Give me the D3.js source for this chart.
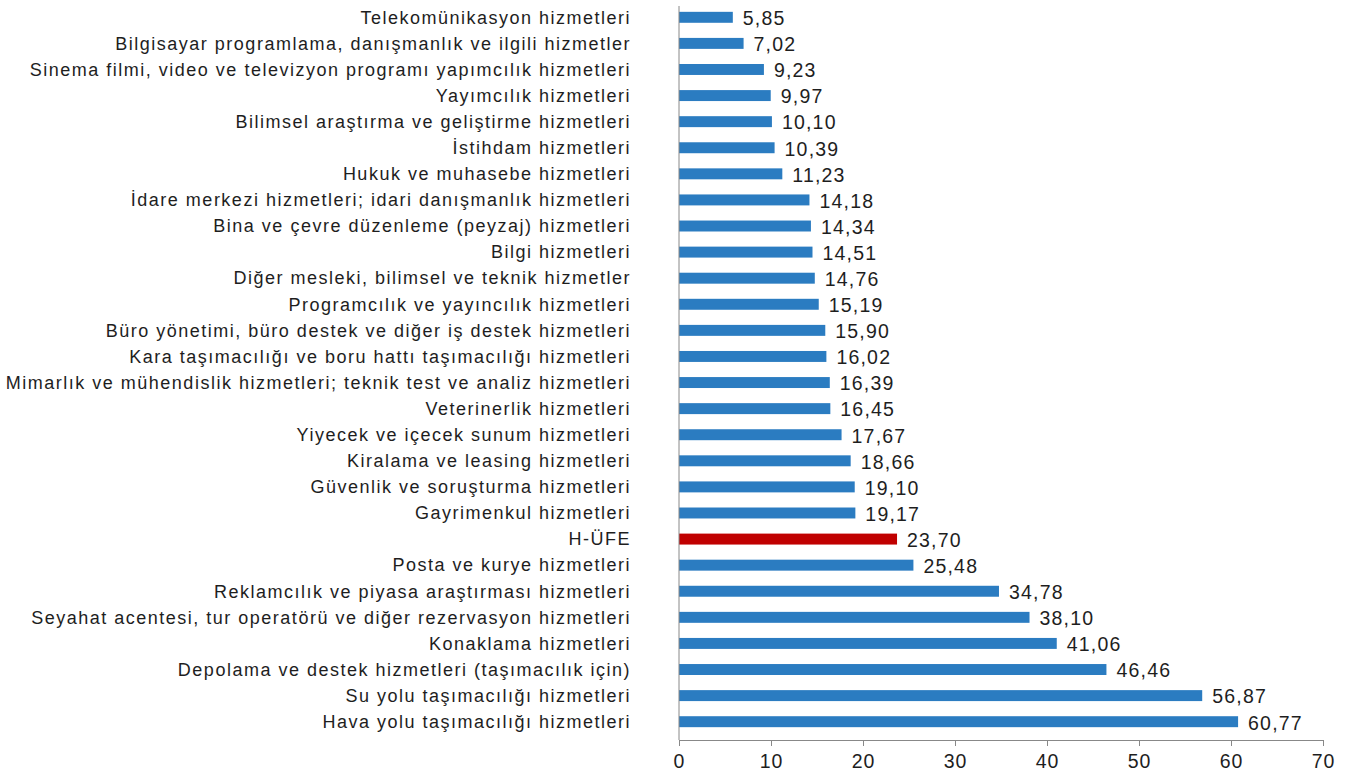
<!DOCTYPE html>
<html>
<head>
<meta charset="utf-8">
<script src="https://cdn.jsdelivr.net/npm/d3@7"></script>
<style>
  body { margin: 0; background: #fff; }
  text { font-family: "Liberation Sans", Arial, sans-serif; fill: #1e1e1e; }
</style>
</head>
<body>
<svg id="chart" width="1346" height="779"></svg>
<script>
// categories, top to bottom
const categories = [
  "Telekomünikasyon hizmetleri",
  "Bilgisayar programlama, danışmanlık ve ilgili hizmetler",
  "Sinema filmi, video ve televizyon programı yapımcılık hizmetleri",
  "Yayımcılık hizmetleri",
  "Bilimsel araştırma ve geliştirme hizmetleri",
  "İstihdam hizmetleri",
  "Hukuk ve muhasebe hizmetleri",
  "İdare merkezi hizmetleri; idari danışmanlık hizmetleri",
  "Bina ve çevre düzenleme (peyzaj) hizmetleri",
  "Bilgi hizmetleri",
  "Diğer mesleki, bilimsel ve teknik hizmetler",
  "Programcılık ve yayıncılık hizmetleri",
  "Büro yönetimi, büro destek ve diğer iş destek hizmetleri",
  "Kara taşımacılığı ve boru hattı taşımacılığı hizmetleri",
  "Mimarlık ve mühendislik hizmetleri; teknik test ve analiz hizmetleri",
  "Veterinerlik hizmetleri",
  "Yiyecek ve içecek sunum hizmetleri",
  "Kiralama ve leasing hizmetleri",
  "Güvenlik ve soruşturma hizmetleri",
  "Gayrimenkul hizmetleri",
  "H-ÜFE",
  "Posta ve kurye hizmetleri",
  "Reklamcılık ve piyasa araştırması hizmetleri",
  "Seyahat acentesi, tur operatörü ve diğer rezervasyon hizmetleri",
  "Konaklama hizmetleri",
  "Depolama ve destek hizmetleri (taşımacılık için)",
  "Su yolu taşımacılığı hizmetleri",
  "Hava yolu taşımacılığı hizmetleri"
]
const values = [5.85, 7.02, 9.23, 9.97, 10.10, 10.39, 11.23, 14.18, 14.34, 14.51, 14.76, 15.19, 15.90, 16.02,
  16.39, 16.45, 17.67, 18.66, 19.10, 19.17, 23.70, 25.48, 34.78, 38.10, 41.06, 46.46, 56.87, 60.77]
const highlight = "H-ÜFE"
const xTicks = [0, 10, 20, 30, 40, 50, 60, 70]

const svg = d3.select("#chart")
const fmt = d => d.toFixed(2).replace(".", ",")

const x = d3.scaleLinear().domain([0, 70]).range([679, 1323])
const y = d3.scaleBand().domain(categories).range([4, 735]).paddingInner(0.58).paddingOuter(0.3)

const data = categories.map((c, i) => ({ name: c, value: values[i] }))

// bars
svg.append("g").selectAll("rect")
  .data(data)
  .join("rect")
    .attr("x", x(0))
    .attr("y", d => y(d.name))
    .attr("width", d => x(d.value) - x(0))
    .attr("height", y.bandwidth())
    .attr("fill", d => d.name === highlight ? "#c00000" : "#2b7cc1")

// value labels
svg.append("g").selectAll("text")
  .data(data)
  .join("text")
    .attr("x", d => x(d.value) + 10)
    .attr("y", d => y(d.name) + y.bandwidth() / 2 + 1)
    .attr("dy", "0.35em")
    .attr("font-size", 19.5)
    .attr("letter-spacing", 1.2)
    .text(d => fmt(d.value))

// category labels
svg.append("g").selectAll("text")
  .data(data)
  .join("text")
    .attr("x", 631)
    .attr("y", d => y(d.name) + y.bandwidth() / 2)
    .attr("dy", "0.35em")
    .attr("text-anchor", "end")
    .attr("font-size", 18)
    .attr("letter-spacing", 1.5)
    .text(d => d.name)

// vertical axis line
svg.append("line")
  .attr("x1", x(0)).attr("x2", x(0))
  .attr("y1", 6).attr("y2", 740)
  .attr("stroke", "#888")

// x axis
const xAxis = svg.append("g")
  .attr("transform", "translate(0,740)")
  .call(d3.axisBottom(x).tickValues(xTicks).tickSize(6).tickSizeOuter(0).tickFormat(d3.format("d")))
xAxis.select(".domain").attr("stroke", "#888")
xAxis.selectAll(".tick line").attr("stroke", "#888")
xAxis.selectAll(".tick text")
  .attr("font-size", 19.5)
  .attr("letter-spacing", 1)
  .attr("font-family", "Liberation Sans, Arial, sans-serif")
  .attr("fill", "#1e1e1e")
  .attr("dy", "0.95em")
</script>
</body>
</html>
